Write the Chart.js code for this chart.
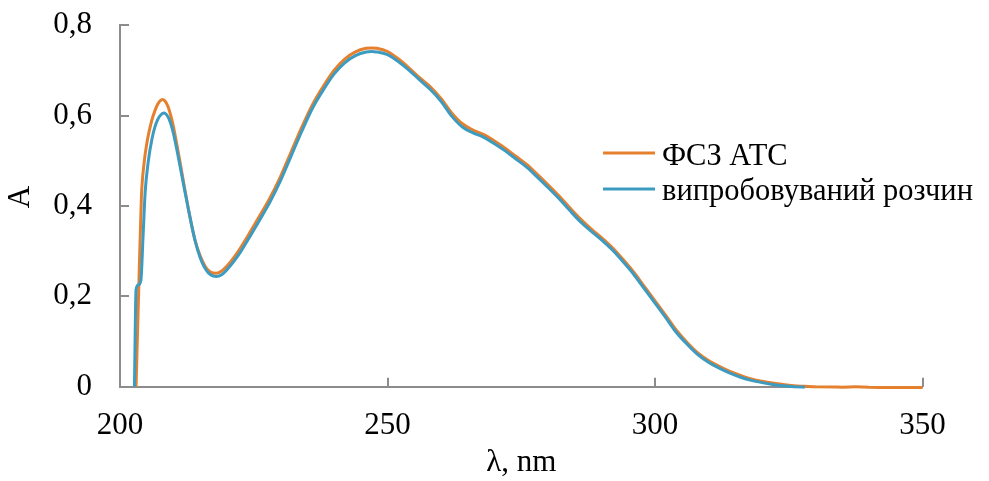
<!DOCTYPE html>
<html>
<head>
<meta charset="utf-8">
<script src="https://cdn.jsdelivr.net/npm/chart.js@4.4.1/dist/chart.umd.min.js"></script>
<style>
  html, body { margin: 0; padding: 0; background: #ffffff; }
  #wrap { width: 989px; height: 481px; position: relative; }
</style>
</head>
<body>
<div id="wrap"><canvas id="c"></canvas></div>
<script>
// ---- data ----
const seriesNames = ['ФСЗ АТС', 'випробовуваний розчин'];

const wavelengthsRef = [203.0, 203.5, 204.0, 204.5, 205.0, 205.5, 206.0, 206.5, 207.0, 207.5, 208.0, 208.5, 209.0, 209.5, 210.0, 211.0, 212.0, 213.0, 214.0, 215.0, 216.0, 217.0, 218.0, 219.0, 220.0, 222.0, 224.0, 226.0, 228.0, 230.0, 232.0, 234.0, 236.0, 238.0, 240.0, 242.0, 244.0, 246.0, 247.0, 248.0, 250.0, 252.0, 254.0, 256.0, 258.0, 260.0, 262.0, 264.0, 266.0, 268.0, 270.0, 272.0, 274.0, 276.0, 278.0, 280.0, 282.0, 284.0, 286.0, 288.0, 290.0, 292.0, 294.0, 296.0, 298.0, 300.0, 302.0, 304.0, 306.0, 308.0, 310.0, 312.0, 314.0, 316.0, 318.0, 320.0, 322.0, 324.0, 326.0, 328.0, 330.0, 335.0, 340.0, 345.0, 350.0];
const absorbanceRef = [0.000, 0.215, 0.420, 0.495, 0.538, 0.568, 0.592, 0.610, 0.624, 0.633, 0.636, 0.631, 0.619, 0.600, 0.575, 0.512, 0.445, 0.380, 0.325, 0.289, 0.265, 0.253, 0.251, 0.256, 0.267, 0.298, 0.336, 0.376, 0.417, 0.465, 0.520, 0.575, 0.625, 0.665, 0.700, 0.725, 0.741, 0.749, 0.750, 0.749, 0.742, 0.726, 0.706, 0.684, 0.664, 0.638, 0.606, 0.582, 0.568, 0.558, 0.544, 0.528, 0.510, 0.492, 0.470, 0.447, 0.423, 0.397, 0.372, 0.350, 0.330, 0.308, 0.282, 0.254, 0.222, 0.190, 0.158, 0.125, 0.098, 0.075, 0.058, 0.045, 0.034, 0.025, 0.017, 0.012, 0.008, 0.005, 0.002, 0.001, 0.000, -0.001, -0.001, -0.002, -0.002];

const wavelengthsTest = [202.7, 203.0, 203.4, 203.9, 204.3, 204.7, 205.3, 206.0, 206.5, 207.0, 207.5, 208.2, 209.0, 209.5, 210.0, 211.0, 212.0, 213.0, 214.0, 215.0, 216.0, 217.0, 218.0, 219.0, 220.0, 222.0, 224.0, 226.0, 228.0, 230.0, 232.0, 234.0, 236.0, 238.0, 240.0, 242.0, 244.0, 246.0, 247.0, 248.0, 250.0, 252.0, 254.0, 256.0, 258.0, 260.0, 262.0, 264.0, 266.0, 268.0, 270.0, 272.0, 274.0, 276.0, 278.0, 280.0, 282.0, 284.0, 286.0, 288.0, 290.0, 292.0, 294.0, 296.0, 298.0, 300.0, 302.0, 304.0, 306.0, 308.0, 310.0, 312.0, 314.0, 316.0, 318.0, 320.0, 322.0, 324.0, 326.0, 328.0];
const absorbanceTest = [0.000, 0.214, 0.225, 0.235, 0.330, 0.430, 0.500, 0.550, 0.574, 0.590, 0.600, 0.606, 0.597, 0.582, 0.560, 0.502, 0.440, 0.380, 0.325, 0.285, 0.260, 0.247, 0.244, 0.248, 0.259, 0.289, 0.327, 0.367, 0.408, 0.456, 0.511, 0.566, 0.617, 0.657, 0.692, 0.717, 0.733, 0.741, 0.742, 0.741, 0.735, 0.720, 0.701, 0.679, 0.658, 0.632, 0.599, 0.575, 0.562, 0.552, 0.538, 0.522, 0.504, 0.486, 0.464, 0.441, 0.417, 0.391, 0.366, 0.345, 0.325, 0.303, 0.277, 0.249, 0.217, 0.185, 0.153, 0.120, 0.094, 0.071, 0.054, 0.041, 0.030, 0.021, 0.014, 0.009, 0.005, 0.002, 0.000, -0.001];

const xTickValues = [200, 250, 300, 350];
const yTickValues = [0, 0.2, 0.4, 0.6, 0.8];
const yTickLabels = ['0', '0,2', '0,4', '0,6', '0,8'];
const xAxisTitle = 'λ, nm';
const yAxisTitle = 'A';

// ---- styles ----
const ORANGE = '#E5802F';
const BLUE = '#3C9BC0';
const AXIS = '#8C8C8C';
const FONT = "'Liberation Serif', 'Times New Roman', serif";

function toPoints(xs, ys) { return xs.map((x, i) => ({ x: x, y: ys[i] })); }

const innerTicks = {
  id: 'innerTicks',
  afterDraw(chart) {
    const ctx = chart.ctx, a = chart.chartArea;
    const xs = chart.scales.x, ys = chart.scales.y;
    ctx.save();
    ctx.strokeStyle = AXIS;
    ctx.lineWidth = 2;
    ctx.beginPath();
    yTickValues.forEach(v => {
      const p = Math.round(ys.getPixelForValue(v));
      ctx.moveTo(a.left, p); ctx.lineTo(a.left + 9, p);
    });
    xTickValues.forEach(v => {
      const p = Math.round(xs.getPixelForValue(v));
      ctx.moveTo(p, a.bottom); ctx.lineTo(p, a.bottom - 9);
    });
    ctx.stroke();
    ctx.restore();
  }
};

const sideTexts = {
  id: 'sideTexts',
  afterDraw(chart) {
    const ctx = chart.ctx;
    const rows = [{ ds: chart.data.datasets[0], y: 165, ly: 153 }, { ds: chart.data.datasets[1], y: 200, ly: 189 }];
    ctx.save();
    ctx.font = '30.5px ' + FONT;
    ctx.fillStyle = '#000';
    ctx.textBaseline = 'alphabetic';
    ctx.textAlign = 'left';
    rows.forEach(r => {
      ctx.strokeStyle = r.ds.borderColor;
      ctx.lineWidth = 3;
      ctx.beginPath();
      ctx.moveTo(603, r.ly); ctx.lineTo(655, r.ly);
      ctx.stroke();
      ctx.fillText(r.ds.label, 662, r.y);
    });
    // y-axis title
    ctx.font = '31px ' + FONT;
    ctx.translate(21, 197);
    ctx.rotate(-Math.PI / 2);
    ctx.textAlign = 'center';
    ctx.textBaseline = 'middle';
    ctx.fillText(yAxisTitle, 0, 0);
    ctx.restore();
  }
};

new Chart(document.getElementById('c'), {
  type: 'line',
  data: {
    datasets: [
      { label: seriesNames[0], data: toPoints(wavelengthsRef, absorbanceRef), borderColor: ORANGE, borderWidth: 3, pointRadius: 0, cubicInterpolationMode: 'monotone', fill: false, order: 1, clip: 6 },
      { label: seriesNames[1], data: toPoints(wavelengthsTest, absorbanceTest), borderColor: BLUE, borderWidth: 3, pointRadius: 0, cubicInterpolationMode: 'monotone', fill: false, order: 0, clip: 6 }
    ]
  },
  options: {
    responsive: true,
    maintainAspectRatio: false,
    animation: false,
    events: [],
    layout: { padding: { left: 0, right: 66.5, top: 25.3, bottom: 0 } },
    plugins: { legend: { display: false }, tooltip: { enabled: false } },
    scales: {
      x: {
        type: 'linear', min: 200, max: 350,
        afterBuildTicks: s => { s.ticks = xTickValues.map(v => ({ value: v })); },
        afterFit: s => { s.height = 94.3; s.paddingLeft = 0; s.paddingRight = 0; },
        grid: { display: true, drawOnChartArea: false, drawTicks: false },
        border: { display: true, color: AXIS, width: 2 },
        ticks: { padding: 21, color: '#000', font: { family: FONT, size: 31 }, maxRotation: 0, autoSkip: false },
        title: { display: true, text: xAxisTitle, color: '#000', font: { family: FONT, size: 31 }, padding: { top: 0, bottom: 0 } }
      },
      y: {
        type: 'linear', min: 0, max: 0.8,
        afterBuildTicks: s => { s.ticks = yTickValues.map(v => ({ value: v })); },
        afterFit: s => { s.width = 120; s.paddingTop = 0; s.paddingBottom = 0; },
        grid: { display: true, drawOnChartArea: false, drawTicks: false },
        border: { display: true, color: AXIS, width: 2 },
        ticks: { padding: 28, color: '#000', font: { family: FONT, size: 31 }, autoSkip: false,
          callback: (v) => { const i = yTickValues.findIndex(t => Math.abs(t - v) < 1e-9); return i >= 0 ? yTickLabels[i] : ''; } },
        title: { display: false }
      }
    }
  },
  plugins: [innerTicks, sideTexts]
});
</script>
</body>
</html>
